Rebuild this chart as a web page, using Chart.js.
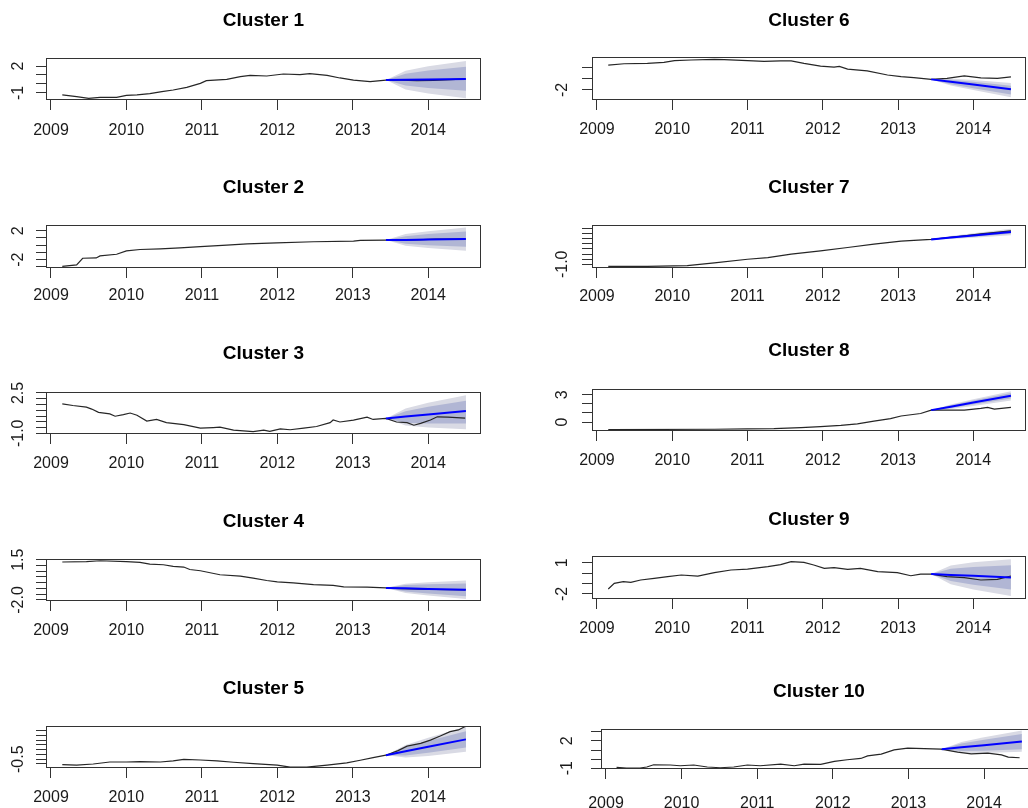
<!DOCTYPE html>
<html>
<head>
<meta charset="utf-8">
<script src="https://cdn.jsdelivr.net/npm/chart.js@4/dist/chart.umd.min.js"></script>
<style>
  html, body { margin: 0; padding: 0; background: #fff; }
  body { position: relative; width: 1028px; height: 808px; overflow: hidden; }
  canvas { position: absolute; }
</style>
</head>
<body>
<script>
// ---- forecast horizon (shared by every cluster) ----
const fcYears = [2013.44, 2013.70, 2014.00, 2014.50];

// ---- Cluster 1 ----
const c1Years  = [2009.15, 2009.34, 2009.50, 2009.65, 2009.87, 2010.00, 2010.14, 2010.31, 2010.47, 2010.62, 2010.80, 2010.98, 2011.06, 2011.33, 2011.51, 2011.64, 2011.86, 2012.08, 2012.30, 2012.43, 2012.66, 2012.83, 2013.01, 2013.23, 2013.44, 2013.63, 2013.85, 2014.07, 2014.30, 2014.49];
const c1Values = [-1.22, -1.41, -1.59, -1.48, -1.48, -1.26, -1.22, -1.07, -0.85, -0.67, -0.37, 0.07, 0.37, 0.52, 0.81, 0.96, 0.89, 1.11, 1.04, 1.15, 0.96, 0.67, 0.44, 0.26, 0.44, 0.44, 0.37, 0.40, 0.48, 0.56];
const c1Mean = [0.44, 0.47, 0.50, 0.56];
const c1Lo80 = [0.44, -0.18, -0.45, -0.74];
const c1Hi80 = [0.44, 1.15, 1.50, 1.93];
const c1Lo95 = [0.44, -0.60, -1.07, -1.59];
const c1Hi95 = [0.44, 1.47, 1.96, 2.56];
const c1TickLabels = [-1, 2];

// ---- Cluster 2 ----
const c2Years  = [2009.15, 2009.34, 2009.42, 2009.60, 2009.65, 2009.87, 2010.00, 2010.18, 2010.45, 2010.71, 2010.98, 2011.33, 2011.60, 2011.99, 2012.48, 2013.01, 2013.10, 2013.44, 2013.85, 2014.10, 2014.49];
const c2Values = [-2.93, -2.74, -1.81, -1.77, -1.49, -1.26, -0.79, -0.60, -0.51, -0.37, -0.19, 0.00, 0.19, 0.33, 0.47, 0.56, 0.65, 0.70, 0.74, 0.84, 0.84];
const c2Mean = [0.70, 0.73, 0.77, 0.84];
const c2Lo80 = [0.70, 0.21, 0.00, -0.21];
const c2Hi80 = [0.70, 1.25, 1.54, 1.89];
const c2Lo95 = [0.70, -0.07, -0.40, -0.76];
const c2Hi95 = [0.70, 1.53, 1.94, 2.44];
const c2TickLabels = [-2, 2];

// ---- Cluster 3 ----
const c3Years  = [2009.15, 2009.29, 2009.47, 2009.54, 2009.63, 2009.78, 2009.85, 2009.96, 2010.05, 2010.14, 2010.27, 2010.40, 2010.53, 2010.76, 2010.98, 2011.15, 2011.24, 2011.42, 2011.68, 2011.82, 2011.90, 2012.04, 2012.17, 2012.35, 2012.52, 2012.70, 2012.74, 2012.83, 2013.01, 2013.19, 2013.27, 2013.44, 2013.58, 2013.72, 2013.81, 2013.90, 2014.03, 2014.12, 2014.26, 2014.49];
const c3Values = [1.55, 1.41, 1.27, 1.10, 0.82, 0.68, 0.48, 0.62, 0.76, 0.57, 0.06, 0.20, -0.08, -0.25, -0.55, -0.50, -0.47, -0.72, -0.86, -0.72, -0.83, -0.61, -0.69, -0.55, -0.41, -0.08, 0.15, -0.02, 0.15, 0.40, 0.20, 0.29, -0.02, -0.08, -0.30, -0.14, 0.15, 0.43, 0.40, 0.32];
const c3Mean = [0.29, 0.45, 0.63, 0.93];
const c3Lo80 = [0.29, -0.08, -0.16, -0.16];
const c3Hi80 = [0.29, 0.92, 1.31, 1.83];
const c3Lo95 = [0.29, -0.32, -0.50, -0.64];
const c3Hi95 = [0.29, 1.16, 1.65, 2.30];
const c3TickLabels = [-1.0, 2.5];

// ---- Cluster 4 ----
const c4Years  = [2009.15, 2009.47, 2009.65, 2010.00, 2010.18, 2010.31, 2010.49, 2010.62, 2010.76, 2010.84, 2010.98, 2011.24, 2011.51, 2011.68, 2011.86, 2012.00, 2012.21, 2012.48, 2012.74, 2012.88, 2013.19, 2013.44, 2013.63, 2013.90, 2014.49];
const c4Values = [1.30, 1.33, 1.41, 1.33, 1.27, 1.12, 1.06, 0.92, 0.86, 0.65, 0.54, 0.19, 0.07, -0.10, -0.31, -0.42, -0.51, -0.66, -0.74, -0.86, -0.89, -0.95, -1.01, -1.07, -1.12];
const c4Mean = [-0.95, -0.99, -1.04, -1.12];
const c4Lo80 = [-0.95, -1.27, -1.44, -1.68];
const c4Hi80 = [-0.95, -0.71, -0.64, -0.57];
const c4Lo95 = [-0.95, -1.39, -1.62, -1.91];
const c4Hi95 = [-0.95, -0.59, -0.46, -0.31];
const c4TickLabels = [-2.0, 1.5];

// ---- Cluster 5 ----
const c5Years  = [2009.15, 2009.34, 2009.56, 2009.78, 2010.00, 2010.18, 2010.45, 2010.62, 2010.76, 2010.98, 2011.20, 2011.42, 2011.68, 2012.00, 2012.17, 2012.39, 2012.66, 2012.92, 2013.10, 2013.27, 2013.44, 2013.60, 2013.72, 2013.90, 2014.03, 2014.16, 2014.29, 2014.40, 2014.49];
const c5Values = [-1.07, -1.11, -1.00, -0.79, -0.79, -0.75, -0.79, -0.68, -0.51, -0.58, -0.68, -0.82, -0.96, -1.11, -1.32, -1.32, -1.11, -0.89, -0.61, -0.33, -0.08, 0.40, 0.87, 1.16, 1.50, 1.93, 2.39, 2.57, 2.92];
const c5Mean = [-0.08, 0.33, 0.80, 1.58];
const c5Lo80 = [-0.08, -0.10, 0.18, 0.73];
const c5Hi80 = [-0.08, 0.76, 1.42, 2.43];
const c5Lo95 = [-0.08, -0.32, -0.16, 0.27];
const c5Hi95 = [-0.08, 0.98, 1.76, 2.89];
const c5TickLabels = [-0.5];

// ---- Cluster 6 ----
const c6Years  = [2009.15, 2009.36, 2009.67, 2009.89, 2010.03, 2010.25, 2010.56, 2010.69, 2011.00, 2011.22, 2011.44, 2011.58, 2011.75, 2011.97, 2012.15, 2012.22, 2012.33, 2012.59, 2012.86, 2013.04, 2013.21, 2013.44, 2013.65, 2013.88, 2014.10, 2014.32, 2014.50];
const c6Values = [0.25, 0.37, 0.40, 0.49, 0.65, 0.71, 0.77, 0.74, 0.65, 0.58, 0.62, 0.62, 0.40, 0.15, 0.06, 0.12, -0.12, -0.28, -0.65, -0.80, -0.89, -1.05, -0.95, -0.74, -0.92, -0.95, -0.83];
const c6Mean = [-1.05, -1.27, -1.52, -1.94];
const c6Lo80 = [-1.05, -1.49, -1.85, -2.43];
const c6Hi80 = [-1.05, -1.09, -1.27, -1.63];
const c6Lo95 = [-1.05, -1.60, -2.01, -2.68];
const c6Hi95 = [-1.05, -0.98, -1.11, -1.38];
const c6TickLabels = [-2];

// ---- Cluster 7 ----
const c7Years  = [2009.15, 2009.67, 2010.20, 2010.56, 2011.00, 2011.27, 2011.58, 2011.97, 2012.33, 2012.68, 2013.04, 2013.44, 2013.80, 2014.10, 2014.50];
const c7Values = [-1.20, -1.20, -1.13, -0.87, -0.51, -0.35, -0.02, 0.31, 0.63, 0.96, 1.25, 1.42, 1.70, 1.95, 2.24];
const c7Mean = [1.42, 1.60, 1.80, 2.14];
const c7Lo80 = [1.42, 1.51, 1.67, 1.96];
const c7Hi80 = [1.42, 1.69, 1.93, 2.32];
const c7Lo95 = [1.42, 1.45, 1.57, 1.83];
const c7Hi95 = [1.42, 1.75, 2.03, 2.45];
const c7TickLabels = [-1.0];

// ---- Cluster 8 ----
const c8Years  = [2009.15, 2010.56, 2011.00, 2011.35, 2011.71, 2011.97, 2012.24, 2012.46, 2012.68, 2012.90, 2013.04, 2013.30, 2013.44, 2013.66, 2013.88, 2014.10, 2014.19, 2014.28, 2014.50];
const c8Values = [-0.82, -0.79, -0.75, -0.71, -0.60, -0.49, -0.37, -0.19, 0.11, 0.37, 0.67, 0.94, 1.31, 1.31, 1.31, 1.50, 1.61, 1.42, 1.61];
const c8Mean = [1.31, 1.69, 2.14, 2.88];
const c8Lo80 = [1.31, 1.54, 1.92, 2.58];
const c8Hi80 = [1.31, 1.84, 2.36, 3.18];
const c8Lo95 = [1.31, 1.44, 1.77, 2.38];
const c8Hi95 = [1.31, 1.94, 2.51, 3.38];
const c8TickLabels = [0, 3];

// ---- Cluster 9 ----
const c9Years  = [2009.15, 2009.23, 2009.35, 2009.45, 2009.58, 2009.76, 2009.94, 2010.12, 2010.34, 2010.56, 2010.78, 2011.00, 2011.27, 2011.44, 2011.58, 2011.75, 2011.88, 2012.02, 2012.15, 2012.33, 2012.50, 2012.73, 2012.99, 2013.17, 2013.30, 2013.44, 2013.65, 2013.88, 2014.10, 2014.32, 2014.50];
const c9Values = [-1.52, -0.98, -0.82, -0.88, -0.66, -0.50, -0.34, -0.18, -0.28, 0.04, 0.30, 0.39, 0.62, 0.81, 1.10, 1.03, 0.78, 0.46, 0.52, 0.36, 0.46, 0.14, 0.04, -0.25, -0.09, -0.09, -0.34, -0.44, -0.66, -0.60, -0.28];
const c9Mean = [-0.09, -0.17, -0.26, -0.41];
const c9Lo80 = [-0.09, -0.76, -1.11, -1.58];
const c9Hi80 = [-0.09, 0.42, 0.59, 0.76];
const c9Lo95 = [-0.09, -1.07, -1.57, -2.20];
const c9Hi95 = [-0.09, 0.73, 1.05, 1.33];
const c9TickLabels = [-2, 1];

// ---- Cluster 10 ----
const c10Years  = [2009.14, 2009.27, 2009.45, 2009.54, 2009.63, 2009.85, 2009.98, 2010.16, 2010.34, 2010.51, 2010.69, 2010.87, 2011.04, 2011.31, 2011.49, 2011.62, 2011.84, 2012.02, 2012.19, 2012.37, 2012.46, 2012.64, 2012.81, 2012.99, 2013.21, 2013.43, 2013.65, 2013.83, 2014.05, 2014.23, 2014.32, 2014.47];
const c10Values = [-0.91, -0.98, -0.98, -0.87, -0.62, -0.65, -0.73, -0.65, -0.87, -0.95, -0.87, -0.65, -0.73, -0.55, -0.73, -0.55, -0.58, -0.25, -0.07, 0.07, 0.36, 0.55, 1.02, 1.20, 1.16, 1.09, 0.76, 0.58, 0.65, 0.47, 0.22, 0.15];
const c10Mean = [1.09, 1.30, 1.53, 1.93];
const c10Lo80 = [1.09, 0.88, 0.92, 1.09];
const c10Hi80 = [1.09, 1.72, 2.14, 2.77];
const c10Lo95 = [1.09, 0.71, 0.67, 0.80];
const c10Hi95 = [1.09, 1.89, 2.39, 3.15];
const c10TickLabels = [-1, 2];

// ---- styling ----
const FONT = '"Liberation Sans", Arial, sans-serif';
const BAND95 = '#d9dae4';
const BAND80 = '#b1b6d4';
const OBS_COLOR = '#262626';
const FC_COLOR = '#0000ff';
const AXIS_COLOR = '#333333';
const TEXT_COLOR = '#1a1a1a';
const TITLE_SIZE = 19;
const TITLE_LH = TITLE_SIZE * 1.2;
const TICK_SIZE = 16;
const TICK_LEN = 10;
const X_AXIS_H = 46;
const X_MIN = 2008.934, X_MAX = 2014.70;

// panel geometry: one entry per small chart
const panels = [
  {n: 1, years: c1Years, values: c1Values, mean: c1Mean, lo80: c1Lo80, hi80: c1Hi80, lo95: c1Lo95, hi95: c1Hi95, step: 1, labels: c1TickLabels, yMin: -1.78, yMax: 2.89,
   left: 0, boxLeft: 46, boxRight: 481, boxTop: 58, boxBottom: 100, titleY: 20, labelY: 130.5, yGap: 27.3},
  {n: 2, years: c2Years, values: c2Values, mean: c2Mean, lo80: c2Lo80, hi80: c2Hi80, lo95: c2Lo95, hi95: c2Hi95, step: 1, labels: c2TickLabels, yMin: -3.16, yMax: 2.79,
   left: 0, boxLeft: 46, boxRight: 481, boxTop: 225, boxBottom: 268, titleY: 187.5, labelY: 296, yGap: 27.3},
  {n: 3, years: c3Years, values: c3Values, mean: c3Mean, lo80: c3Lo80, hi80: c3Hi80, lo95: c3Lo95, hi95: c3Hi95, step: 0.5, labels: c3TickLabels, yMin: -1.06, yMax: 2.58,
   left: 0, boxLeft: 46, boxRight: 481, boxTop: 392, boxBottom: 434, titleY: 353.7, labelY: 464, yGap: 27.3},
  {n: 4, years: c4Years, values: c4Values, mean: c4Mean, lo80: c4Lo80, hi80: c4Hi80, lo95: c4Lo95, hi95: c4Hi95, step: 0.5, labels: c4TickLabels, yMin: -2.09, yMax: 1.56,
   left: 0, boxLeft: 46, boxRight: 481, boxTop: 559, boxBottom: 601, titleY: 521.5, labelY: 630.8, yGap: 27.3},
  {n: 5, years: c5Years, values: c5Values, mean: c5Mean, lo80: c5Lo80, hi80: c5Hi80, lo95: c5Lo95, hi95: c5Hi95, step: 0.5, labels: c5TickLabels, yMin: -1.42, yMax: 2.98,
   left: 0, boxLeft: 46, boxRight: 481, boxTop: 726, boxBottom: 768, titleY: 688.8, labelY: 798, yGap: 27.3},
  {n: 6, years: c6Years, values: c6Values, mean: c6Mean, lo80: c6Lo80, hi80: c6Hi80, lo95: c6Lo95, hi95: c6Hi95, step: 1, labels: c6TickLabels, yMin: -2.92, yMax: 0.98,
   left: 514, boxLeft: 592, boxRight: 1026, boxTop: 57, boxBottom: 100, titleY: 20, labelY: 130, yGap: 29.2},
  {n: 7, years: c7Years, values: c7Values, mean: c7Mean, lo80: c7Lo80, hi80: c7Hi80, lo95: c7Lo95, hi95: c7Hi95, step: 0.5, labels: c7TickLabels, yMin: -1.36, yMax: 2.82,
   left: 514, boxLeft: 592, boxRight: 1026, boxTop: 225, boxBottom: 268, titleY: 187.5, labelY: 297, yGap: 29.2},
  {n: 8, years: c8Years, values: c8Values, mean: c8Mean, lo80: c8Lo80, hi80: c8Hi80, lo95: c8Lo95, hi95: c8Hi95, step: 1, labels: c8TickLabels, yMin: -0.98, yMax: 3.63,
   left: 514, boxLeft: 592, boxRight: 1026, boxTop: 389, boxBottom: 431, titleY: 350, labelY: 461, yGap: 29.2},
  {n: 9, years: c9Years, values: c9Values, mean: c9Mean, lo80: c9Lo80, hi80: c9Hi80, lo95: c9Lo95, hi95: c9Hi95, step: 1, labels: c9TickLabels, yMin: -2.48, yMax: 1.64,
   left: 514, boxLeft: 592, boxRight: 1026, boxTop: 556, boxBottom: 599, titleY: 519.7, labelY: 629, yGap: 29.2},
  {n: 10, years: c10Years, values: c10Values, mean: c10Mean, lo80: c10Lo80, hi80: c10Hi80, lo95: c10Lo95, hi95: c10Hi95, step: 1, labels: c10TickLabels, yMin: -1.09, yMax: 3.31,
   left: 514, boxLeft: 601, boxRight: 1037, boxTop: 729, boxBottom: 769, titleY: 691, labelY: 804, yGap: 33}
];

// frame around each plotting region
const framePlugin = {
  id: 'frame',
  afterDatasetsDraw(chart) {
    const {ctx, chartArea: a} = chart;
    ctx.save();
    ctx.strokeStyle = AXIS_COLOR;
    ctx.lineWidth = 1;
    ctx.strokeRect(Math.round(a.left) + 0.5, Math.round(a.top) + 0.5,
                   Math.round(a.right - a.left) - 1, Math.round(a.bottom - a.top) - 1);
    ctx.restore();
  }
};

const measureCtx = document.createElement('canvas').getContext('2d');
measureCtx.font = TICK_SIZE + 'px ' + FONT;

function fmt(v, step) {
  return step < 1 ? v.toFixed(1) : String(Math.round(v));
}
function pts(xs, ys) {
  return xs.map((x, i) => ({x: x, y: ys[i]}));
}

function makePanel(p) {
  const top = Math.round(p.titleY - TITLE_LH / 2);
  const width = p.boxRight - p.left;
  const height = p.boxBottom - top + X_AXIS_H;
  const canvas = document.createElement('canvas');
  canvas.width = width; canvas.height = height;
  canvas.style.left = p.left + 'px';
  canvas.style.top = top + 'px';
  canvas.style.width = width + 'px';
  canvas.style.height = height + 'px';
  document.body.appendChild(canvas);

  const widest = Math.max(...p.labels.map(v => measureCtx.measureText(fmt(v, p.step)).width));
  const yPad = p.yGap - TICK_LEN - widest / 2;
  const xPad = p.labelY - p.boxBottom - TICK_LEN - TICK_SIZE * 1.2 / 2;
  const isLabelled = v => p.labels.some(l => Math.abs(l - v) < 1e-9);

  const line = (data, extra) => Object.assign({
    data: data, pointRadius: 0, borderWidth: 0, tension: 0, fill: false
  }, extra);

  new Chart(canvas, {
    type: 'line',
    data: {
      datasets: [
        line(pts(fcYears, p.lo95), {order: 5}),
        line(pts(fcYears, p.hi95), {order: 4, fill: {target: 0}, backgroundColor: BAND95}),
        line(pts(fcYears, p.lo80), {order: 3}),
        line(pts(fcYears, p.hi80), {order: 2, fill: {target: 2}, backgroundColor: BAND80}),
        line(pts(p.years, p.values), {order: 1, borderColor: OBS_COLOR, borderWidth: 1.2}),
        line(pts(fcYears, p.mean), {order: 0, borderColor: FC_COLOR, borderWidth: 2})
      ]
    },
    options: {
      responsive: false,
      animation: false,
      events: [],
      layout: {padding: 0},
      plugins: {
        legend: {display: false},
        tooltip: {enabled: false},
        title: {
          display: true,
          text: 'Cluster ' + p.n,
          fullSize: false,
          color: '#000',
          font: {family: FONT, size: TITLE_SIZE, weight: 'bold', lineHeight: 1.2},
          padding: {top: 0, bottom: p.boxTop - top - TITLE_LH}
        }
      },
      scales: {
        x: {
          type: 'linear',
          min: X_MIN, max: X_MAX,
          afterFit: s => { s.height = X_AXIS_H; },
          border: {display: false},
          grid: {drawOnChartArea: false, drawTicks: true, tickLength: TICK_LEN, tickColor: AXIS_COLOR, tickWidth: 1},
          ticks: {
            stepSize: 1, includeBounds: false, autoSkip: false, maxRotation: 0,
            padding: xPad, color: TEXT_COLOR,
            font: {family: FONT, size: TICK_SIZE},
            callback: v => String(v)
          }
        },
        y: {
          type: 'linear',
          min: p.yMin, max: p.yMax,
          afterFit: s => { s.width = p.boxLeft - p.left; },
          border: {display: false},
          grid: {drawOnChartArea: false, drawTicks: true, tickLength: TICK_LEN, tickColor: AXIS_COLOR, tickWidth: 1},
          ticks: {
            stepSize: p.step, includeBounds: false, autoSkip: false,
            minRotation: 90, maxRotation: 90, crossAlign: 'center',
            padding: yPad, color: TEXT_COLOR,
            font: {family: FONT, size: TICK_SIZE},
            callback: v => isLabelled(v) ? fmt(v, p.step) : ''
          }
        }
      }
    },
    plugins: [framePlugin]
  });
}

panels.forEach(makePanel);
</script>
</body>
</html>
